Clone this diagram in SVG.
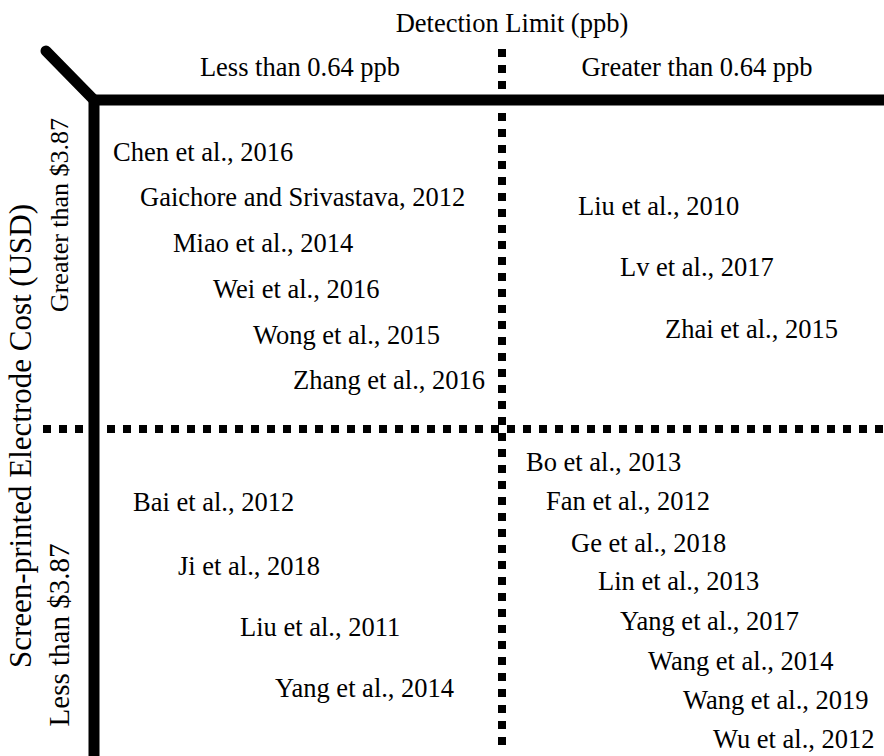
<svg xmlns="http://www.w3.org/2000/svg" width="884" height="756" viewBox="0 0 884 756">
<style>
text{font-family:"Liberation Serif","Times New Roman",serif;font-size:26.5px;fill:#000}
.axis{stroke:#000;stroke-width:11;fill:none}
.dot{stroke:#000;stroke-width:8;stroke-dasharray:8 8;fill:none}
</style>
<rect width="884" height="756" fill="#fff"/>
<g id="connectors">
<line class="dot" x1="43" y1="429" x2="884" y2="429"/>
<line class="dot" x1="502" y1="49" x2="502" y2="746"/>
<path class="axis" d="M46,51 L94,100" stroke-linecap="round"/>
<path class="axis" d="M94,100 L884,100" stroke-width="10"/>
<path class="axis" d="M94,98 L94,756"/>
</g>
<g id="axis-labels">
<text x="512" y="32" text-anchor="middle">Detection Limit (ppb)</text>
<text x="300" y="76" text-anchor="middle">Less than 0.64 ppb</text>
<text x="697" y="76" text-anchor="middle">Greater than 0.64 ppb</text>
<text transform="translate(31,436) rotate(-90)" text-anchor="middle" style="font-size:31px">Screen-printed Electrode Cost (USD)</text>
<text transform="translate(68,215) rotate(-90)" text-anchor="middle" style="font-size:26px">Greater than $3.87</text>
<text transform="translate(69,635) rotate(-90)" text-anchor="middle" style="font-size:29px">Less than $3.87</text>
</g>
<g id="quadrant-top-left">
<text x="113" y="161">Chen et al., 2016</text>
<text x="140" y="206">Gaichore and Srivastava, 2012</text>
<text x="173" y="252">Miao et al., 2014</text>
<text x="213" y="298">Wei et al., 2016</text>
<text x="253" y="344">Wong et al., 2015</text>
<text x="293" y="389">Zhang et al., 2016</text>
</g>
<g id="quadrant-top-right">
<text x="578" y="215">Liu et al., 2010</text>
<text x="620" y="276">Lv et al., 2017</text>
<text x="665" y="338">Zhai et al., 2015</text>
</g>
<g id="quadrant-bottom-left">
<text x="133" y="511">Bai et al., 2012</text>
<text x="178" y="575">Ji et al., 2018</text>
<text x="240" y="636">Liu et al., 2011</text>
<text x="275" y="697">Yang et al., 2014</text>
</g>
<g id="quadrant-bottom-right">
<text x="526" y="471">Bo et al., 2013</text>
<text x="546" y="510">Fan et al., 2012</text>
<text x="571" y="552">Ge et al., 2018</text>
<text x="598" y="590">Lin et al., 2013</text>
<text x="620" y="630">Yang et al., 2017</text>
<text x="648" y="670">Wang et al., 2014</text>
<text x="683" y="709">Wang et al., 2019</text>
<text x="713" y="748">Wu et al., 2012</text>
</g>
</svg>
